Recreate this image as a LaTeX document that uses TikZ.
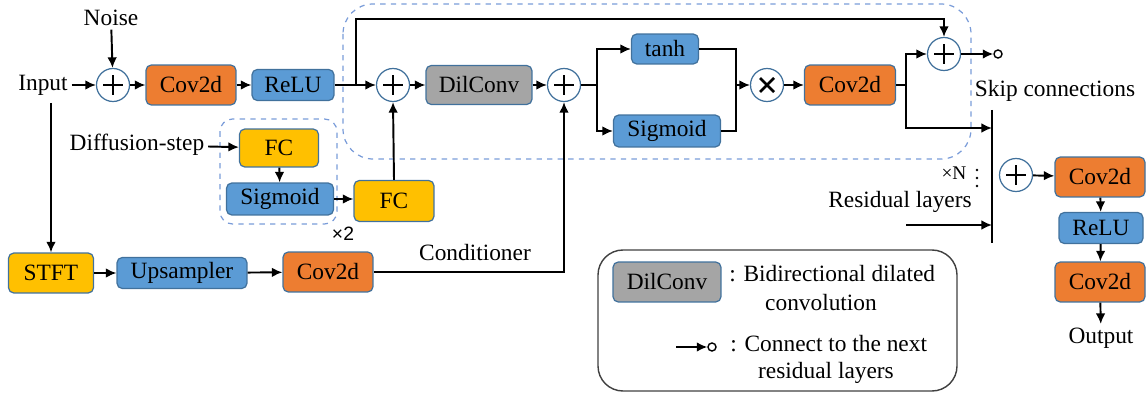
\documentclass[tikz,border=0pt]{standalone}
\usepackage{fontspec}
\setmainfont{Liberation Serif}
\newfontfamily\smallsans{Liberation Sans}
\usetikzlibrary{arrows.meta}
\definecolor{convorange}{HTML}{ED7D31}
\definecolor{actblue}{HTML}{5B9BD5}
\definecolor{fcyellow}{HTML}{FFC000}
\definecolor{dilgray}{HTML}{A5A5A5}
\definecolor{boxedge}{HTML}{41719C}
\definecolor{dashblue}{HTML}{7A9CD9}
\newcommand{\lblsize}{\rmfamily\fontsize{13.3}{15}\selectfont}
\tikzset{blk/.style={draw=boxedge,line width=0.7pt,rounded corners=3pt,inner sep=0pt,minimum height=0.8cm,font=\lblsize}}
\tikzset{conv/.style={blk,fill=convorange,minimum width=1.8cm}}
\tikzset{act/.style={blk,fill=actblue,minimum height=0.62cm}}
\tikzset{fcbox/.style={blk,fill=fcyellow,minimum width=1.6cm}}
\tikzset{dilbox/.style={blk,fill=dilgray,minimum width=2.12cm,minimum height=0.78cm}}
\tikzset{opnode/.style={circle,draw=boxedge,fill=white,line width=0.7pt,minimum size=0.66cm,inner sep=0pt}}
\tikzset{sumop/.style={opnode,path picture={\draw[black,line width=1.6pt] (path picture bounding box.center) +(-0.2cm,0) -- +(0.2cm,0) (path picture bounding box.center) +(0,-0.2cm) -- +(0,0.2cm);}}}
\tikzset{mulop/.style={opnode,path picture={\draw[black,line width=1.6pt] (path picture bounding box.center) +(-0.14cm,-0.14cm) -- +(0.14cm,0.14cm) (path picture bounding box.center) +(-0.14cm,0.14cm) -- +(0.14cm,-0.14cm);}}}
\tikzset{lbl/.style={font=\lblsize,inner sep=2pt}}
\tikzset{ln/.style={line width=1.1pt}}
\tikzset{arr/.style={ln,-{Latex[length=6pt,width=5.5pt]}}}
\tikzset{group/.style={draw=dashblue,dashed,line width=0.7pt}}
\tikzset{endpt/.style={circle,draw,line width=0.8pt,minimum size=0.16cm,inner sep=0pt}}

\begin{document}
\begin{tikzpicture}[x=0.02cm,y=-0.02cm]
  \useasboundingbox (0,0) rectangle (1146,395);
  % dashed groups
  \draw[group,rounded corners=0.6cm] (343,4) rectangle (971,159);
  \draw[group,rounded corners=0.25cm] (220,119) rectangle (337,224);
  % input row
  \node[lbl] (in) at (43,85) {Input};
  \node[lbl] (noise) at (111,18) {Noise};
  \node[sumop] (p1) at (113,85) {};
  \node[conv] (c1) at (191,85) {Cov2d};
  \node[act,minimum width=1.64cm] (r1) at (293,85) {ReLU};
  \coordinate (br1) at (356,85);
  % residual layer
  \node[sumop] (p2) at (393,85) {};
  \node[dilbox] (dil) at (479,85) {DilConv};
  \node[sumop] (p3) at (564,85) {};
  \coordinate (br2) at (597,85);
  \node[act,minimum width=1.34cm,minimum height=0.6cm] (tanh) at (665,49) {tanh};
  \node[act,minimum width=2.14cm,minimum height=0.64cm] (sg2) at (667,131) {Sigmoid};
  \coordinate (mg) at (736,85);
  \node[mulop] (mul) at (767,85) {};
  \node[conv,minimum width=1.82cm] (c2) at (850,85) {Cov2d};
  \coordinate (br3) at (906,85);
  \node[sumop] (p4) at (944,54) {};
  \node[endpt] (nx) at (998,54) {};
  % diffusion step
  \node[lbl] (ds) at (137,145) {Diffusion-step};
  \node[fcbox,minimum width=1.58cm,minimum height=0.76cm] (fc1) at (279,148) {FC};
  \node[act,minimum width=2.14cm,minimum height=0.64cm] (sg1) at (280,199) {Sigmoid};
  \node[fcbox,minimum height=0.82cm] (fc2) at (394,201) {FC};
  \node[font=\smallsans\fontsize{11}{13}\selectfont] at (343,234) {×2};
  % conditioner
  \coordinate (inb) at (51,103);
  \node[fcbox,minimum width=1.7cm] (stft) at (51,273) {STFT};
  \node[act,minimum width=2.6cm] (up) at (182,273) {Upsampler};
  \node[conv] (c5) at (328,272) {Cov2d};
  \node[lbl] at (475,253) {Conditioner};
  % skip connections
  \coordinate (bt) at (992,110);
  \coordinate (bb) at (992,243);
  \coordinate (s1) at (992,128);
  \coordinate (rl) at (906,225);
  \coordinate (s2) at (992,225);
  \node[lbl] at (1055,91) {Skip connections};
  \node[font=\rmfamily\fontsize{11}{13}\selectfont] at (954,173) {×N};
  \foreach \y in {170,178,186}
    \fill (977,\y) circle (1.4);
  \node[lbl] at (900,202) {Residual layers};
  \node[sumop] (p5) at (1016,175) {};
  \node[conv] (c3) at (1100,177) {Cov2d};
  \node[act,minimum width=1.68cm] (r2) at (1101,228) {ReLU};
  \node[conv] (c4) at (1100,282) {Cov2d};
  \node[lbl] (out) at (1101,338) {Output};
  % connectors
  \draw[arr] (in) -- (p1);
  \draw[arr] (noise) -- (p1);
  \draw[arr] (p1) -- (c1);
  \draw[arr] (c1) -- (r1);
  \draw[arr] (r1.east) -- (p2.west);
  \draw[arr] (br1) -- ++(0,-66) -| (p4.north);
  \draw[arr] (p2) -- (dil);
  \draw[arr] (dil) -- (p3);
  \draw[ln] (p3.east) -- (br2);
  \draw[arr] (br2) |- (tanh.west);
  \draw[arr] (br2) |- (sg2.west);
  \draw[ln] (tanh.east) -| (mg);
  \draw[ln] (sg2.east) -| (mg);
  \draw[arr] (mg) -- (mul.west);
  \draw[arr] (mul) -- (c2);
  \draw[ln] (c2.east) -- (br3);
  \draw[arr] (br3) |- (p4.west);
  \draw[arr] (br3) |- (s1);
  \draw[arr] (p4) -- (nx);
  \draw[arr] (ds) -- (fc1);
  \draw[arr] (fc1) -- (sg1);
  \draw[arr] (sg1) -- (fc2.west |- sg1.east);
  \draw[arr] (fc2.north) -- (p2.south);
  \draw[arr] (inb) -- (stft.north);
  \draw[arr] (stft) -- (up);
  \draw[arr] (up) -- (c5);
  \draw[arr] (c5.east) -| (p3.south);
  \draw[ln] (bt) -- (bb);
  \draw[arr] (rl) -- (s2);
  \draw[arr] (p5) -- (c3);
  \draw[arr] (c3) -- (r2);
  \draw[arr] (r2) -- (c4);
  \draw[arr] (c4) -- (out);
  % legend
  \draw[line width=0.8pt,draw=black!75,rounded corners=0.5cm] (598,250) rectangle (957,391);
  \node[dilbox,minimum width=2.16cm,minimum height=0.8cm] (lgd) at (667,282) {DilConv};
  \node[lbl,anchor=west,inner sep=0pt] at (729,274) {: Bidirectional dilated};
  \node[lbl] at (821,303) {convolution};
  \coordinate (la) at (676,347);
  \node[endpt] (lc) at (712,347) {};
  \draw[arr] (la) -- (lc);
  \node[lbl,anchor=west,inner sep=0pt] at (730,344) {: Connect to the next};
  \node[lbl] at (826,373) {residual layers};
\end{tikzpicture}
\end{document}
